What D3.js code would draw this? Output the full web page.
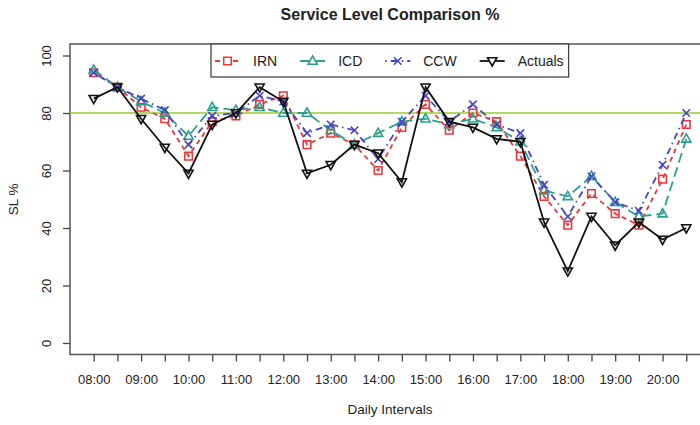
<!DOCTYPE html>
<html>
<head>
<meta charset="utf-8">
<script src="https://cdn.jsdelivr.net/npm/d3@7"></script>
<style>
  body { margin: 0; background: white; }
  text { font-family: "Liberation Sans", Arial, sans-serif; fill: #222; }
</style>
</head>
<body>
<div id="container"></div>
<script>
// half hour intervals, 08:00 - 20:30
let intervals = ["08:00","08:30","09:00","09:30","10:00","10:30","11:00","11:30","12:00","12:30",
  "13:00","13:30","14:00","14:30","15:00","15:30","16:00","16:30","17:00","17:30",
  "18:00","18:30","19:00","19:30","20:00","20:30"];

let irn     = [94, 89, 82, 78, 65, 77, 79, 83, 86, 69, 73, 69, 60, 75, 83, 74, 80, 77, 65, 51, 41, 52, 45, 41, 57, 76];
let icd     = [95, 89, 84, 80, 72, 82, 81, 82, 80, 80, 74, 69, 73, 77, 78, 76, 78, 75, 70, 53, 51, 58, 49, 44, 45, 71];
let ccw     = [94, 89, 85, 81, 69, 79, 80, 86, 84, 73, 76, 74, 64, 77, 86, 77, 83, 76, 73, 55, 44, 58, 49, 46, 62, 80];
let actuals = [85, 89, 78, 68, 59, 76, 80, 89, 84, 59, 62, 69, 66, 56, 89, 77, 75, 71, 70, 42, 25, 44, 34, 42, 36, 40];

let yTicks = [0, 20, 40, 60, 80, 100];
let target = 80;

let w = 700;
let h = 425;

let viz = d3.select("#container")
  .append("svg")
    .attr("width", w)
    .attr("height", h)
    .style("background-color", "white")
;

// plot region (right edge falls just outside the picture, like the original)
let plotLeft = 70, plotRight = 710, plotTop = 44, plotBottom = 354.5;

let xScale = d3.scaleLinear().domain([-1, intervals.length]).range([plotLeft, plotRight]);
let yScale = d3.scaleLinear().domain([-4, 104]).range([plotBottom, plotTop]);

viz.append("clipPath").attr("id", "plotclip")
  .append("rect")
    .attr("x", plotLeft).attr("y", plotTop)
    .attr("width", plotRight - plotLeft).attr("height", plotBottom - plotTop)
;

// title
viz.append("text")
    .attr("x", (plotLeft + plotRight) / 2)
    .attr("y", 20)
    .attr("text-anchor", "middle")
    .style("font-size", "16px")
    .style("font-weight", "bold")
    .text("Service Level Comparison %")
;

// X axis
let xAxis = d3.axisBottom(xScale)
  .tickValues(d3.range(intervals.length))
  .tickSize(7)
  .tickPadding(13)
  .tickFormat(function(d) { return d % 2 == 0 ? intervals[d] : ""; })
;
let xAxisGroup = viz.append("g")
    .attr("class", "xaxis")
    .attr("transform", "translate(0," + plotBottom + ")")
    .call(xAxis)
;
xAxisGroup.select(".domain").remove();
xAxisGroup.selectAll("line").attr("stroke", "#444").attr("stroke-width", 1.3);
xAxisGroup.selectAll("text").style("font-size", "13px").style("fill", "#222");

// Y axis
let yAxis = d3.axisLeft(yScale).tickValues(yTicks).tickSize(7);
let yAxisGroup = viz.append("g")
    .attr("class", "yaxis")
    .attr("transform", "translate(" + plotLeft + ",0)")
    .call(yAxis)
;
yAxisGroup.select(".domain").remove();
yAxisGroup.selectAll("line").attr("stroke", "#444").attr("stroke-width", 1.3);
yAxisGroup.selectAll("text")
    .attr("transform", "rotate(-90)")
    .attr("x", 0)
    .attr("y", -19)
    .attr("dy", 0)
    .style("text-anchor", "middle")
    .style("font-size", "13px")
    .style("fill", "#222")
;

// axis titles
viz.append("text")
    .attr("x", (plotLeft + plotRight) / 2)
    .attr("y", 414)
    .attr("text-anchor", "middle")
    .style("font-size", "13.5px")
    .text("Daily Intervals")
;
viz.append("text")
    .attr("transform", "translate(18," + (plotTop + plotBottom) / 2 + ") rotate(-90)")
    .attr("text-anchor", "middle")
    .style("font-size", "13.5px")
    .text("SL %")
;

// box around plot
viz.append("rect")
    .attr("x", plotLeft).attr("y", plotTop)
    .attr("width", plotRight - plotLeft).attr("height", plotBottom - plotTop)
    .attr("fill", "none")
    .attr("stroke", "#555")
    .attr("stroke-width", 1.5)
;

let plotGroup = viz.append("g").attr("clip-path", "url(#plotclip)");

// target line at 80
plotGroup.append("line")
    .attr("x1", plotLeft).attr("x2", plotRight)
    .attr("y1", yScale(target)).attr("y2", yScale(target))
    .attr("stroke", "#9acd32")
    .attr("stroke-width", 1.6)
;

let seriesList = [
  { name: "IRN", values: irn, color: "#e8383d", dash: "5,4", shape: "square" },
  { name: "ICD", values: icd, color: "#2e9e8e", dash: "10,5", shape: "triangle" },
  { name: "CCW", values: ccw, color: "#4545c4", dash: "1.5,4,7,4", shape: "cross" },
  { name: "Actuals", values: actuals, color: "#111", dash: null, shape: "down" }
];

function markerPath(shape) {
  if (shape == "square") {
    return "M-3.8,-3.8H3.8V3.8H-3.8Z";
  } else if (shape == "triangle") {
    return "M0,-5L4.6,3.2L-4.6,3.2Z";
  } else if (shape == "down") {
    return "M0,5L4.6,-3.2L-4.6,-3.2Z";
  } else {
    return "M-3.8,-3.8L3.8,3.8M-3.8,3.8L3.8,-3.8";
  }
}

let lineMaker = d3.line()
  .x(function(d, i) { return xScale(i); })
  .y(function(d) { return yScale(d); })
;

seriesList.forEach(function(s) {
  plotGroup.append("path")
      .datum(s.values)
      .attr("d", lineMaker)
      .attr("fill", "none")
      .attr("stroke", s.color)
      .attr("stroke-width", 1.8)
      .attr("stroke-dasharray", s.dash)
  ;
  plotGroup.selectAll(".pt-" + s.name).data(s.values).enter()
    .append("path")
      .attr("class", "pt-" + s.name)
      .attr("d", markerPath(s.shape))
      .attr("transform", function(d, i) { return "translate(" + xScale(i) + "," + yScale(d) + ")"; })
      .attr("fill", "none")
      .attr("stroke", s.color)
      .attr("stroke-width", 1.6)
  ;
});

// legend at the top
let legendGroup = viz.append("g").attr("class", "legend");
let legendBox = legendGroup.append("rect")
    .attr("y", plotTop)
    .attr("height", 33)
    .attr("fill", "white")
    .attr("stroke", "#444")
    .attr("stroke-width", 1.3)
;
let cursor = 215;
let legendY = plotTop + 17;
seriesList.forEach(function(s) {
  legendGroup.append("line")
      .attr("x1", cursor).attr("x2", cursor + 25)
      .attr("y1", legendY).attr("y2", legendY)
      .attr("stroke", s.color)
      .attr("stroke-width", 1.8)
      .attr("stroke-dasharray", s.dash)
  ;
  legendGroup.append("path")
      .attr("d", markerPath(s.shape))
      .attr("transform", "translate(" + (cursor + 12.5) + "," + legendY + ")")
      .attr("fill", "white")
      .attr("stroke", s.color)
      .attr("stroke-width", 1.6)
  ;
  let label = legendGroup.append("text")
      .attr("x", cursor + 38)
      .attr("y", legendY + 5)
      .style("font-size", "14px")
      .text(s.name)
  ;
  cursor = cursor + 38 + label.node().getComputedTextLength() + 23;
});
legendBox.attr("x", 211).attr("width", cursor - 23 + 5 - 211);
</script>
</body>
</html>
